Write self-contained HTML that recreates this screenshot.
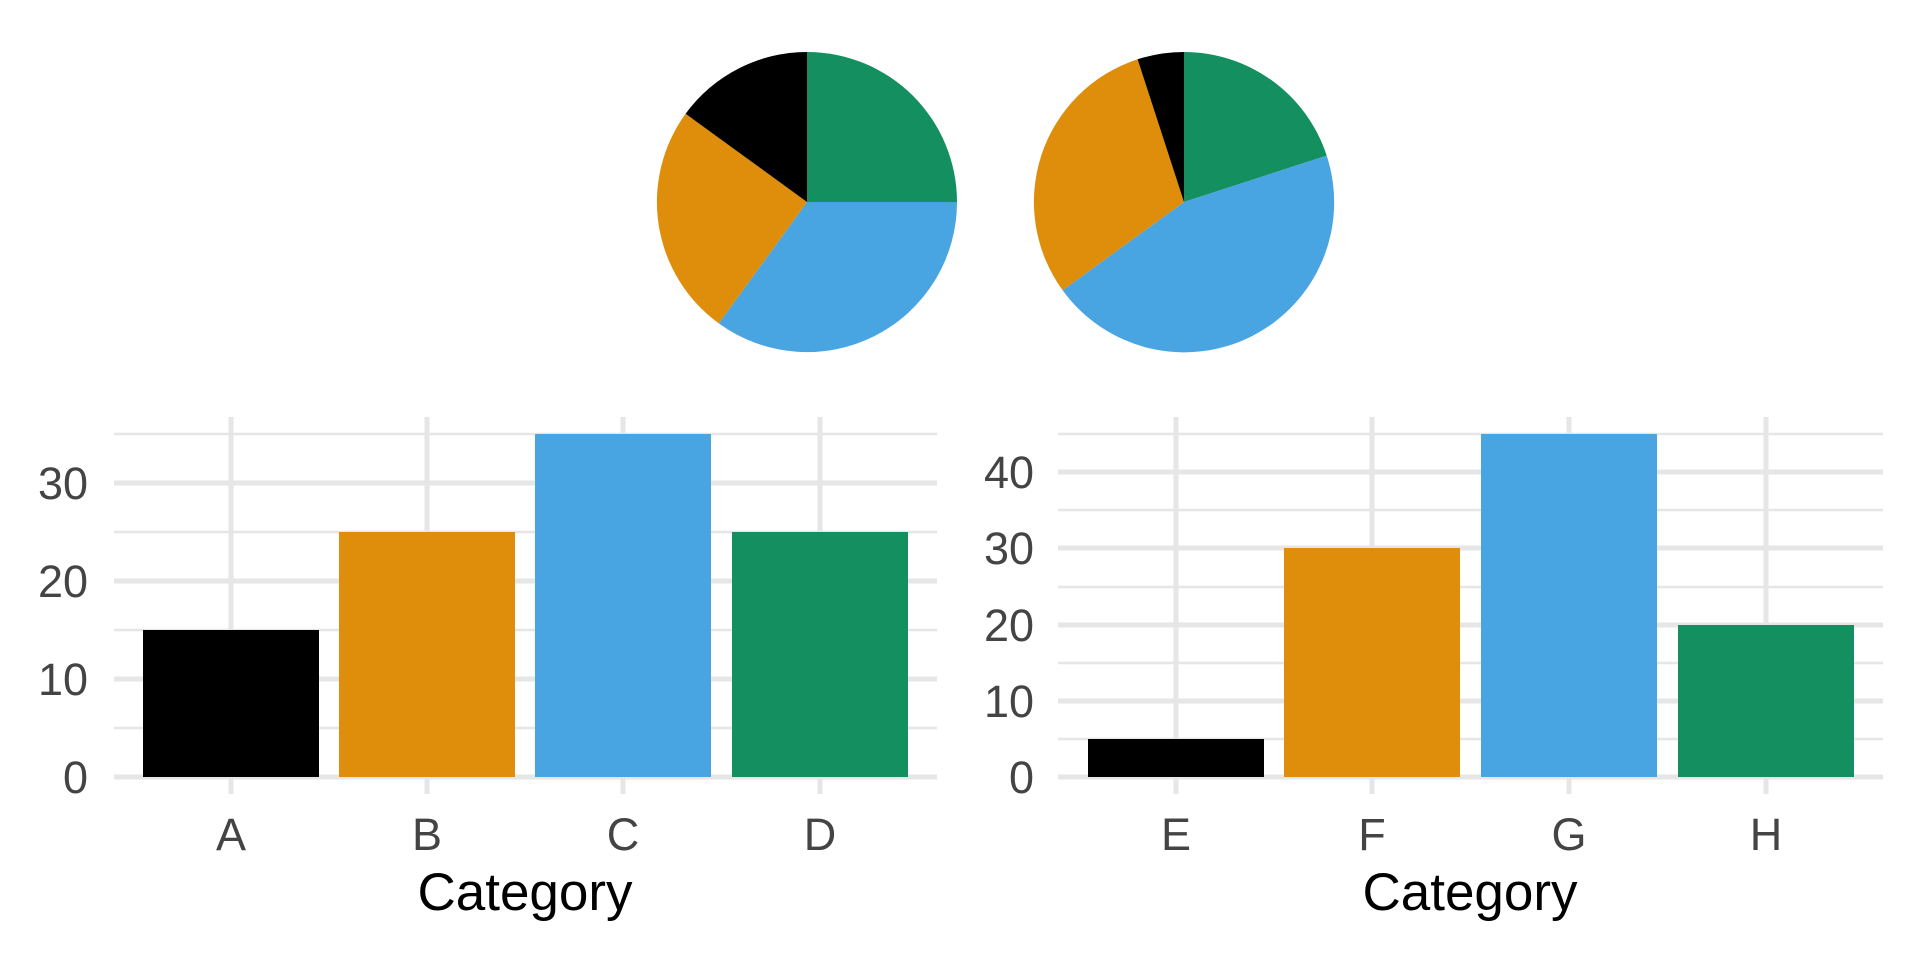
<!DOCTYPE html>
<html><head><style>body{margin:0;background:#fff}svg{display:block}</style></head><body>
<svg width="1920" height="960" xmlns="http://www.w3.org/2000/svg" font-family="Liberation Sans, sans-serif">
<rect width="1920" height="960" fill="#fff"/>
<g>
<path d="M807,202 L807,52 A150,150 0 0 1 957,202 Z" fill="#148F60"/>
<path d="M807,202 L957,202 A150,150 0 0 1 718.8,323.4 Z" fill="#49A4E2"/>
<path d="M807,202 L718.8,323.4 A150,150 0 0 1 685.6,113.8 Z" fill="#DE8E0A"/>
<path d="M807,202 L685.6,113.8 A150,150 0 0 1 807,52 Z" fill="#000"/>
</g>
<g>
<path d="M1184,202 L1184,52 A150,150 0 0 1 1326.7,155.6 Z" fill="#148F60"/>
<path d="M1184,202 L1326.7,155.6 A150,150 0 0 1 1062.6,290.2 Z" fill="#49A4E2"/>
<path d="M1184,202 L1062.6,290.2 A150,150 0 0 1 1137.6,59.3 Z" fill="#DE8E0A"/>
<path d="M1184,202 L1137.6,59.3 A150,150 0 0 1 1184,52 Z" fill="#000"/>
</g>
<g stroke="#e6e6e6">
<g stroke-width="2.5">
<line x1="114" x2="937" y1="728" y2="728"/><line x1="114" x2="937" y1="630" y2="630"/><line x1="114" x2="937" y1="532" y2="532"/><line x1="114" x2="937" y1="434" y2="434"/>
</g>
<g stroke-width="5">
<line x1="114" x2="937" y1="777" y2="777"/><line x1="114" x2="937" y1="679" y2="679"/><line x1="114" x2="937" y1="581" y2="581"/><line x1="114" x2="937" y1="483" y2="483"/>
<line x1="231" x2="231" y1="417" y2="794"/><line x1="427" x2="427" y1="417" y2="794"/><line x1="623" x2="623" y1="417" y2="794"/><line x1="820" x2="820" y1="417" y2="794"/>
</g>
</g>
<rect x="143" y="630" width="176" height="147" fill="#000"/>
<rect x="339" y="532" width="176" height="245" fill="#DE8E0A"/>
<rect x="535" y="434" width="176" height="343" fill="#49A4E2"/>
<rect x="732" y="532" width="176" height="245" fill="#148F60"/>
<g fill="#444" font-size="45" text-anchor="end">
<text x="88" y="793">0</text><text x="88" y="695">10</text><text x="88" y="597">20</text><text x="88" y="499">30</text>
</g>
<g fill="#444" font-size="45" text-anchor="middle">
<text x="231" y="850">A</text><text x="427" y="850">B</text><text x="623" y="850">C</text><text x="820" y="850">D</text>
</g>
<text x="525" y="910" font-size="53" text-anchor="middle" fill="#000">Category</text>
<g stroke="#e6e6e6">
<g stroke-width="2.5">
<line x1="1058" x2="1883" y1="739" y2="739"/><line x1="1058" x2="1883" y1="663" y2="663"/><line x1="1058" x2="1883" y1="587" y2="587"/><line x1="1058" x2="1883" y1="510" y2="510"/><line x1="1058" x2="1883" y1="434" y2="434"/>
</g>
<g stroke-width="5">
<line x1="1058" x2="1883" y1="777" y2="777"/><line x1="1058" x2="1883" y1="701" y2="701"/><line x1="1058" x2="1883" y1="625" y2="625"/><line x1="1058" x2="1883" y1="548" y2="548"/><line x1="1058" x2="1883" y1="472" y2="472"/>
<line x1="1176" x2="1176" y1="417" y2="794"/><line x1="1372" x2="1372" y1="417" y2="794"/><line x1="1569" x2="1569" y1="417" y2="794"/><line x1="1766" x2="1766" y1="417" y2="794"/>
</g>
</g>
<rect x="1088" y="739" width="176" height="38" fill="#000"/>
<rect x="1284" y="548" width="176" height="229" fill="#DE8E0A"/>
<rect x="1481" y="434" width="176" height="343" fill="#49A4E2"/>
<rect x="1678" y="625" width="176" height="152" fill="#148F60"/>
<g fill="#444" font-size="45" text-anchor="end">
<text x="1034" y="793">0</text><text x="1034" y="717">10</text><text x="1034" y="641">20</text><text x="1034" y="564">30</text><text x="1034" y="488">40</text>
</g>
<g fill="#444" font-size="45" text-anchor="middle">
<text x="1176" y="850">E</text><text x="1372" y="850">F</text><text x="1569" y="850">G</text><text x="1766" y="850">H</text>
</g>
<text x="1470" y="910" font-size="53" text-anchor="middle" fill="#000">Category</text>
</svg>
</body></html>
